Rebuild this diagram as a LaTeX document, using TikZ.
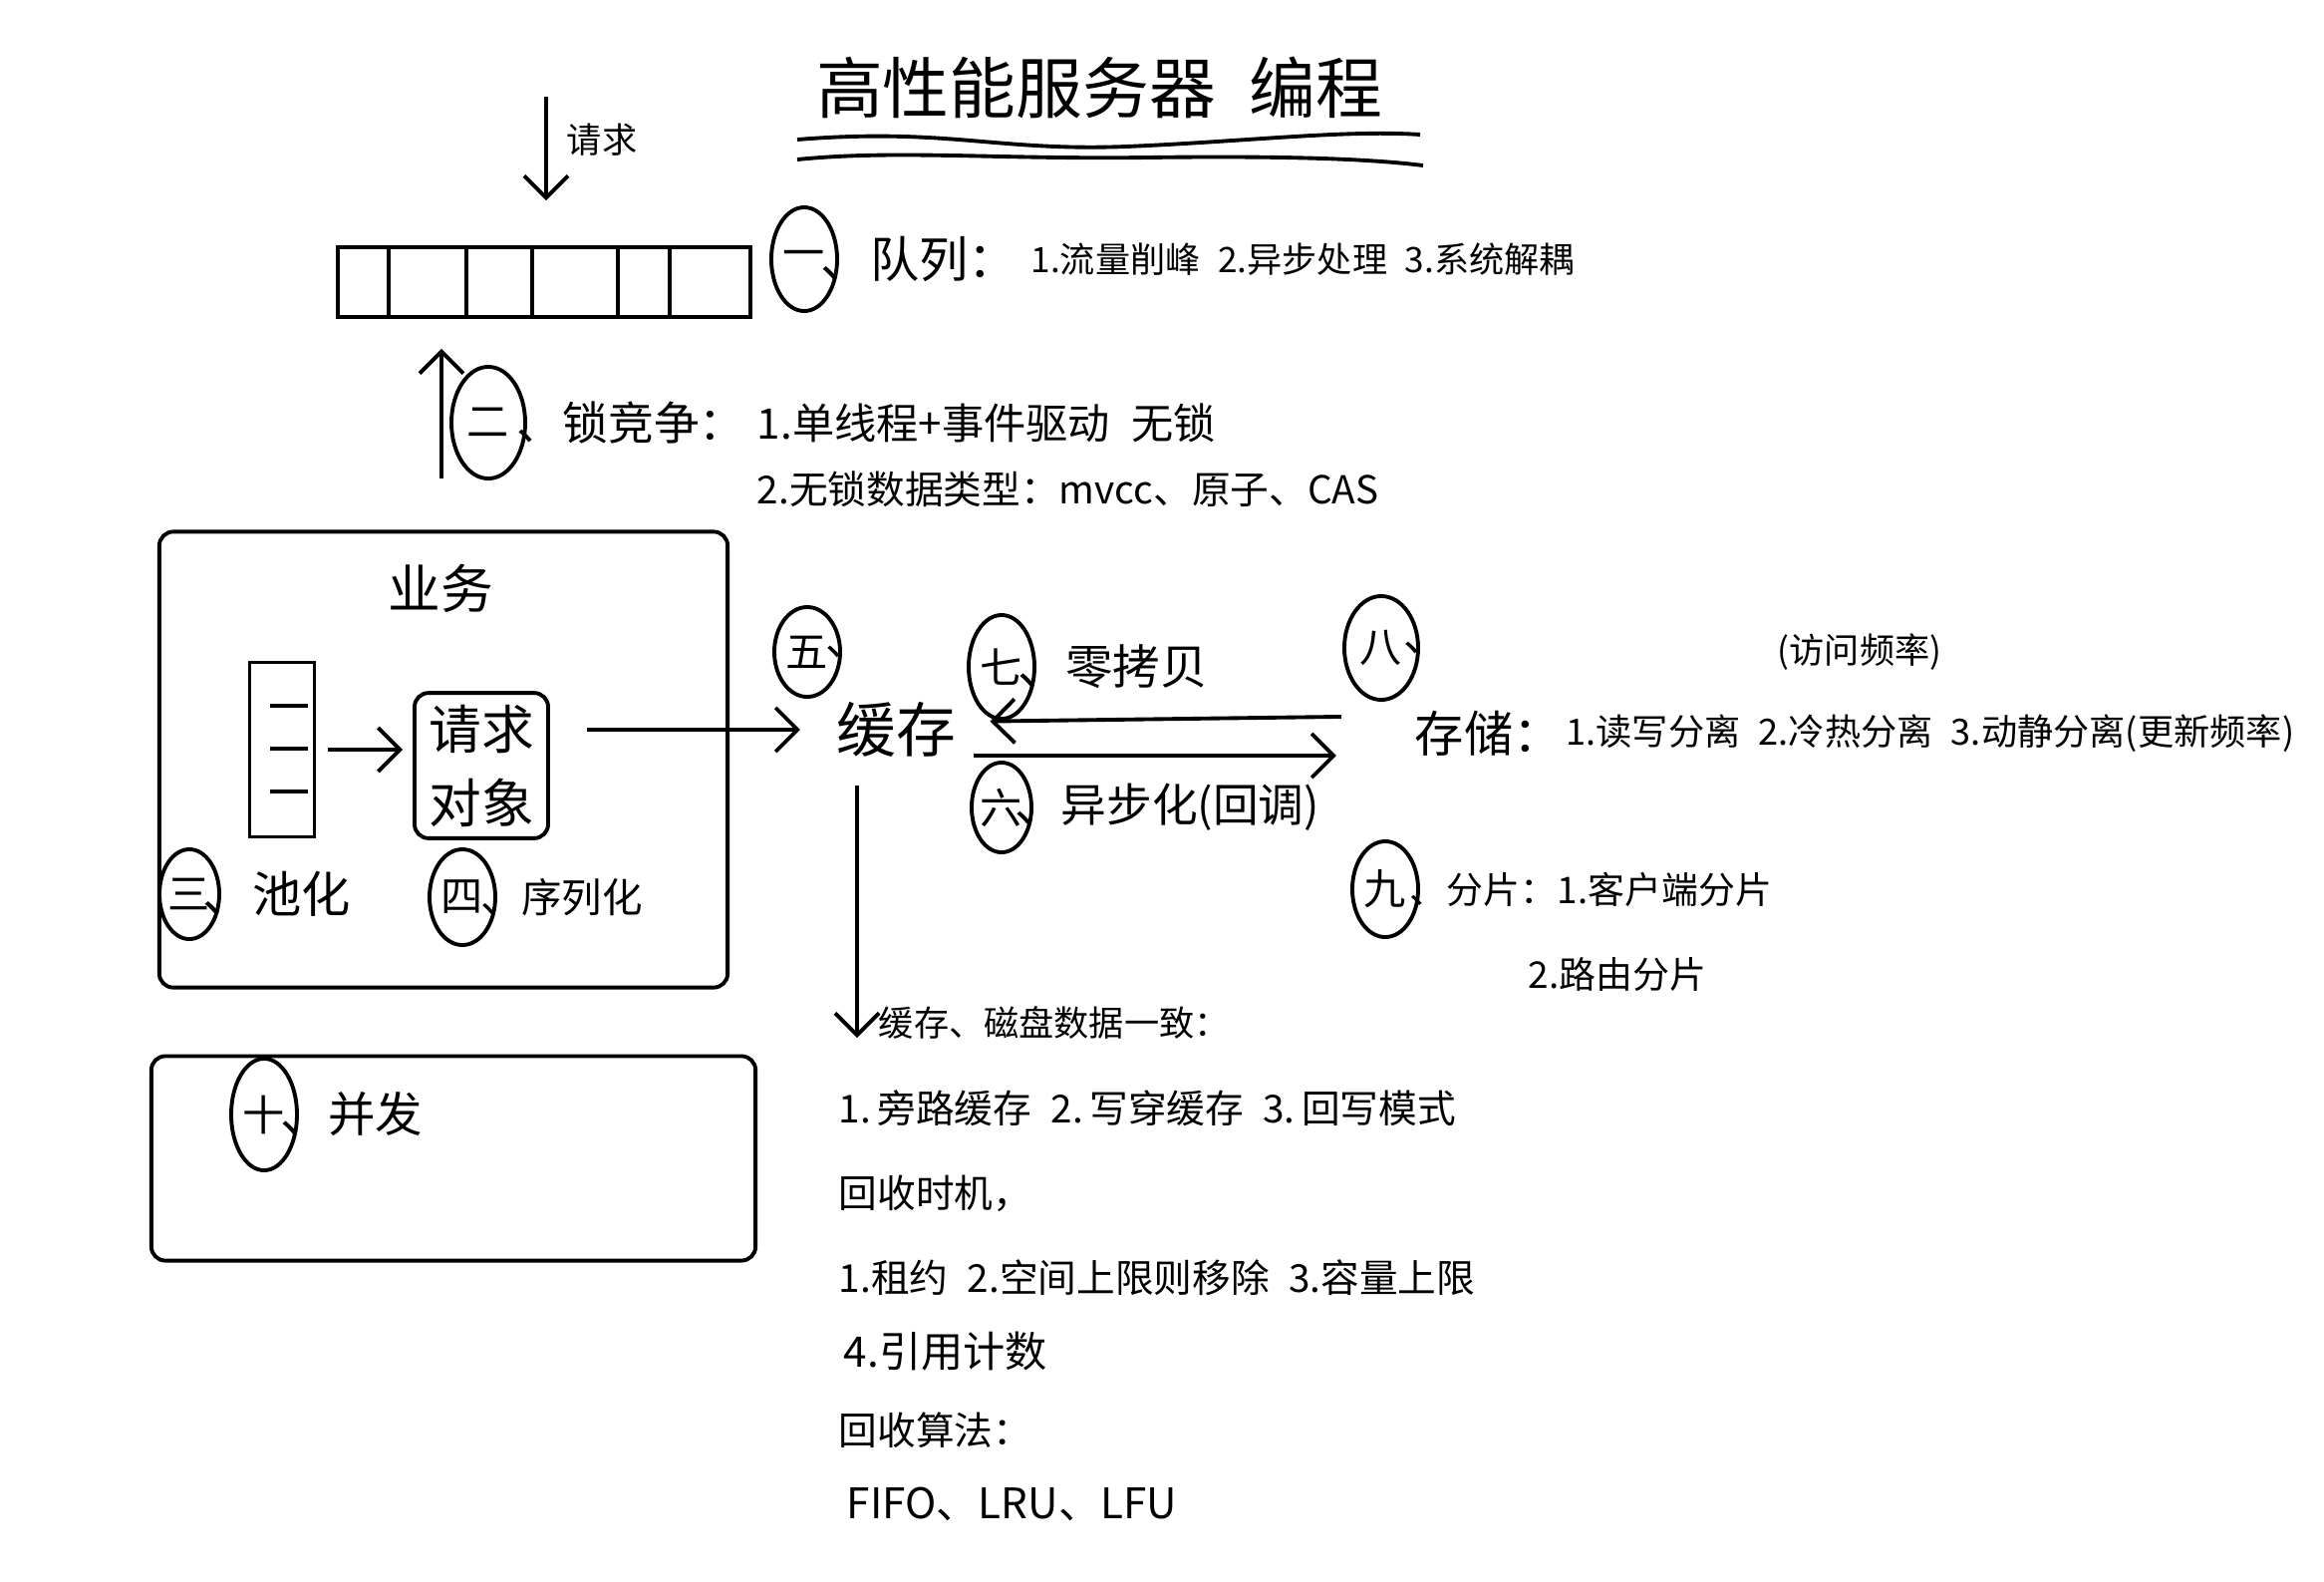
\documentclass[tikz,border=0pt]{standalone}
\usepackage{fontspec}
\setmainfont{Noto Sans CJK SC}
\usetikzlibrary{arrows.meta, positioning, shapes.geometric}
\newcommand{\fsz}[1]{\fontsize{#1}{#1}\selectfont}
\tikzset{
  every picture/.style={line width=1.1pt},
  numoval/.style={draw, ellipse, inner sep=0pt, minimum width=0.66cm, minimum height=1cm, font=\fsz{12}},
  txt/.style={inner sep=0pt, anchor=west},
  panel/.style={draw, rounded corners=4pt},
  arrow/.style={-{Straight Barb[length=2.2mm, width=4.4mm]}, line width=1.1pt},
}

\begin{document}
\begin{tikzpicture}[x=0.01cm, y=-0.01cm]
  \useasboundingbox[fill=white] (0,0) rectangle (2332,1587);
  % title
  \node[font=\fsz{19}] (title) at (1103,88) {高性能服务器\hspace{0.5em}编程};
  \draw (800,140) .. controls (950,128) and (1000,152) .. (1130,147) .. controls (1250,142) and (1350,130) .. (1425,135);
  \draw (800,160) .. controls (900,150) and (1000,160) .. (1150,158) .. controls (1300,156) and (1380,160) .. (1428,166);
  % queue
  \node[draw, minimum width=4.14cm, minimum height=0.7cm] (queue) at (546,283) {};
  \foreach \x in {390,468,534,620,672} \draw (\x,248) -- (\x,318);
  \coordinate (reqtop) at (548,97);
  \draw[arrow, shorten >=0.45cm] (reqtop) -- (reqtop |- queue.north);
  \node[font=\fsz{10}] (reqlbl) at (604,140) {请求};
  \coordinate (upbot) at (443,480);
  \draw[arrow, shorten >=0.3cm] (upbot) -- (upbot |- queue.south);
  \node[numoval, minimum height=1.04cm] (n1) at (807,260) {一};
  \node[txt, font=\fsz{14}, right=-0.2cm of n1] (q1) {、队列：};
  \node[txt, font=\fsz{10}, right=0.1cm of q1] (q1items) {1.流量削峰\enspace 2.异步处理\enspace 3.系统解耦};
  % lock
  \node[numoval, minimum width=0.74cm, minimum height=1.12cm] (n2) at (490,424) {二};
  \node[txt, font=\fsz{13}, right=-0.12cm of n2] (q2) {、锁竞争：};
  \node[txt, font=\fsz{12}] (q2a) at (758,424) {1.单线程+事件驱动\enspace 无锁};
  \node[txt, font=\fsz{11}] (q2b) at (758,491) {2.无锁数据类型：mvcc、原子、CAS};
  % business
  \node[panel, minimum width=5.7cm, minimum height=4.57cm] (biz) at (445,762) {};
  \node[font=\fsz{15}] (bizlbl) at (442,590) {业务};
  \node[draw, minimum width=0.65cm, minimum height=1.75cm] (pool) at (283,752) {};
  \foreach \y in {708,751,794} \draw (271,\y) -- (309,\y);
  \node[panel, minimum width=1.34cm, minimum height=1.44cm, align=center, font=\fsz{15}] (reqobj) at (483,768) {请求\\[6pt]对象};
  \draw[arrow, shorten <=0.12cm, shorten >=0.1cm] (pool.east) -- (pool.east -| reqobj.west);
  \node[numoval, minimum width=0.6cm, minimum height=0.9cm] (n3) at (190,897) {三};
  \node[txt, font=\fsz{14}, right=-0.2cm of n3] (pooltxt) {、池化};
  \node[numoval, minimum height=0.96cm] (n4) at (464,900) {四};
  \node[txt, font=\fsz{11.5}, right=-0.18cm of n4] (sertxt) {、序列化};
  % cache
  \node[numoval, minimum height=0.9cm] (n5) at (810,654) {五};
  \node[inner sep=0pt, font=\fsz{12}, right=-0.18cm of n5] (n5c) {、};
  \node[txt, font=\fsz{17}] (cache) at (838,732) {缓存};
  \draw[arrow, shorten <=0.37cm, shorten >=0.35cm] (reqobj.east |- cache.west) -- (cache.west);
  \node[numoval, minimum height=1.04cm] (n7) at (1005,669) {七};
  \node[txt, font=\fsz{13.5}, right=-0.2cm of n7] (zerocopy) {、零拷贝};
  \node[numoval, minimum width=0.6cm, minimum height=0.9cm] (n6) at (1005,810) {六};
  \node[txt, font=\fsz{13}, right=-0.2cm of n6] (asynctxt) {、异步化(回调)};
  % storage
  \node[numoval, minimum width=0.74cm, minimum height=1.04cm] (n8) at (1386,650) {八};
  \node[inner sep=0pt, font=\fsz{12}, right=-0.18cm of n8] (n8c) {、};
  \node[txt, font=\fsz{14}] (stor) at (1418,736) {存储：};
  \node[txt, font=\fsz{10.3}, right=0pt of stor] (storitems) {1.读写分离\enspace 2.冷热分离\enspace 3.动静分离(更新频率)};
  \node[font=\fsz{10}] (freq) at (1866,654) {(访问频率)};
  \draw[arrow, shorten <=0.72cm, shorten >=0.32cm] (stor.west |- 0,718) -- (cache.east |- 0,724);
  \draw[arrow, shorten <=0.16cm, shorten >=0.77cm] (cache.east |- 0,758) -- (stor.west |- 0,758);
  \node[numoval, minimum height=0.96cm] (n9) at (1390,892) {九};
  \node[txt, font=\fsz{10.5}, right=-0.12cm of n9] (shard) {、分片：1.客户端分片};
  \node[txt, font=\fsz{10.5}] (shard2) at (1532,977) {2.路由分片};
  % consistency
  \coordinate (cachedown) at (860,1041);
  \draw[arrow, shorten <=0.26cm] (cache.south -| cachedown) -- (cachedown);
  \node[txt, font=\fsz{10}] (cons) at (880,1026) {缓存、磁盘数据一致：};
  \node[txt, font=\fsz{11}] (cons1) at (840,1112) {1.\,旁路缓存\enspace 2.\,写穿缓存\enspace 3.\,回写模式};
  \node[txt, font=\fsz{11}] (evict) at (840,1197) {回收时机，};
  \node[txt, font=\fsz{11}] (evict1) at (840,1282) {1.租约\enspace 2.空间上限则移除\enspace 3.容量上限};
  \node[txt, font=\fsz{12}] (evict2) at (845,1356) {4.引用计数};
  \node[txt, font=\fsz{11}] (algo) at (840,1435) {回收算法：};
  \node[txt, font=\fsz{12}] (algo1) at (848,1509) {FIFO、LRU、LFU};
  % concurrency
  \node[panel, minimum width=6.06cm, minimum height=2.05cm] (conc) at (455,1162) {};
  \node[numoval, minimum height=1.12cm] (n10) at (265,1118) {十};
  \node[txt, font=\fsz{13.5}, right=-0.2cm of n10] (conctxt) {、并发};
\end{tikzpicture}
\end{document}
